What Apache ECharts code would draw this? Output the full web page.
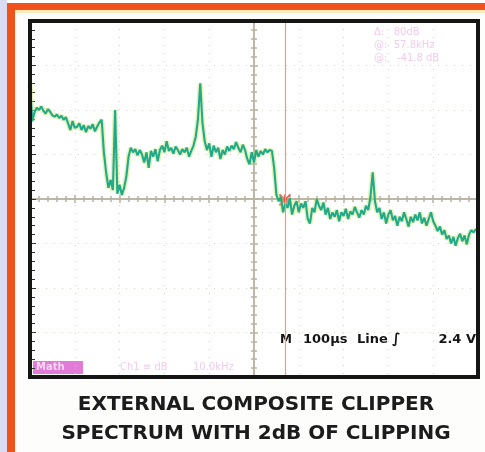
<!DOCTYPE html>
<html>
<head>
<meta charset="utf-8">
<script src="https://cdn.jsdelivr.net/npm/echarts@6/dist/echarts.min.js"></script>
<style>
  html, body { margin: 0; padding: 0; background: #fdfdfb; }
  #chart { width: 485px; height: 452px; }
</style>
</head>
<body>
<div id="chart"></div>
<script>
// Scope screen: 10 horizontal divisions (100µs each), 8 vertical divisions.
const X_MIN = -5;
const X_MAX = 5;
const X_STEP = 0.05; // one sample every 1/20 division
const Y_MIN = -4;
const Y_MAX = 4;

// Trace level in divisions left to right.
const TRACE = [
  2.6, 1.75, 1.95, 2.05, 2.0, 2.08, 1.98, 1.92, 2.02, 1.96,
  1.88, 1.85, 1.9, 1.82, 1.87, 1.78, 1.84, 1.7, 1.55, 1.75,
  1.6, 1.62, 1.7, 1.55, 1.66, 1.5, 1.64, 1.58, 1.68, 1.52,
  1.63, 1.72, 1.78, 1.04, 0.59, 0.25, 0.43, 0.2, 2.0, 0.12,
  0.32, 0.09, 0.25, 0.5, 0.95, 1.15, 1.05, 1.12, 0.98, 1.1,
  1.0, 0.82, 1.05, 0.7, 1.08, 0.95, 1.12, 0.85, 1.1, 1.2,
  1.05, 1.3, 1.08, 1.15, 1.02, 1.18, 1.1, 1.0, 1.12, 1.05,
  1.15, 0.95, 1.08, 1.2, 1.4, 1.8, 2.6, 1.7, 1.3, 1.1,
  1.25, 0.95, 1.2, 1.05, 1.15, 0.9, 1.1, 1.0, 1.18, 1.08,
  1.2, 1.12, 1.28, 1.15, 1.05, 1.22, 1.1, 0.9, 0.78, 1.05,
  0.82, 1.1, 0.95, 1.08, 1.0, 1.12, 1.05, 1.1, 1.08, 0.7,
  0.1, -0.05, 0.05, -0.3, -0.1, -0.2, 0.02, -0.35, -0.15, -0.05,
  -0.3, -0.1, -0.2, -0.05, -0.45, -0.55, -0.2, -0.3, 0.0, -0.15,
  -0.25, -0.08, -0.35, -0.2, -0.45, -0.3, -0.4, -0.25, -0.5, -0.3,
  -0.38, -0.22, -0.45, -0.28, -0.35, -0.18, -0.3, -0.42, -0.25, -0.35,
  -0.15, -0.25, 0.05, 0.6, -0.05, -0.3, -0.2, -0.45, -0.3, -0.55,
  -0.35, -0.25, -0.48, -0.38, -0.6, -0.4, -0.5, -0.3, -0.45, -0.62,
  -0.4, -0.52, -0.35, -0.48, -0.3, -0.55, -0.42, -0.6, -0.45, -0.3,
  -0.5, -0.6, -0.72, -0.62, -0.8, -0.7, -0.9, -0.82, -1.0, -0.85,
  -1.05, -0.88, -0.78, -0.95, -0.82, -1.02, -0.8, -0.7, -0.75, -0.68, -0.72,
];

// Trigger cursor position and marker
const CURSOR_X = 0.69;
const MARKER = [[0.69, -0.02]];

const READOUT = ["Δ:   80dB", "@:  57.8kHz", "@:   -41.8 dB"];
const STATUS = { timebase: "100µs", source: "Line", slope: "∫", level: "2.4 V" };
const CAPTION = ["EXTERNAL COMPOSITE CLIPPER", "SPECTRUM WITH 2dB OF CLIPPING"];

const GRID_DOT = "#d6d5cc";
const AXIS_GRAY = "#b9b3a2";
const TRACE_COLOR = "#22a98b";
const HALO = "rgba(190,228,90,0.45)";
const ORANGE = "#f0521c";
const INK = "#151515";
const PINK = "#f1cdec";

// plot box in pixels (bezel drawn on top so grid dots do not speckle it)
const BOX = { left: 30, right: 7, top: 21, bottom: 75 };

const traceData = TRACE.map((v, i) => [X_MIN + i * X_STEP, v]);

const centerX = (position) => ({
  type: "value",
  min: X_MIN,
  max: X_MAX,
  interval: 1,
  position,
  axisLine: { onZero: true, onZeroAxisIndex: 0, lineStyle: { color: AXIS_GRAY, width: 1.5 } },
  axisTick: { show: true, length: 4, lineStyle: { color: AXIS_GRAY, width: 1.5 } },
  minorTick: { show: true, splitNumber: 5, length: 3, lineStyle: { color: AXIS_GRAY, width: 1.5 } },
  axisLabel: { show: false },
  splitLine: { show: position === "bottom", lineStyle: { color: GRID_DOT, type: [1, 7], width: 1.2 } },
});

const centerY = (position) => ({
  type: "value",
  min: Y_MIN,
  max: Y_MAX,
  interval: 1,
  position,
  axisLine: { onZero: true, onZeroAxisIndex: 0, lineStyle: { color: AXIS_GRAY, width: 1.5 } },
  axisTick: { show: true, length: 4, lineStyle: { color: AXIS_GRAY, width: 1.5 } },
  minorTick: { show: true, splitNumber: 5, length: 3, lineStyle: { color: AXIS_GRAY, width: 1.5 } },
  axisLabel: { show: false },
  splitLine: { show: position === "left", lineStyle: { color: GRID_DOT, type: [1, 7], width: 1.2 } },
});

const chart = echarts.init(document.getElementById("chart"));
chart.setOption({
  animation: false,
  backgroundColor: "#fdfdfb",
  grid: { ...BOX, show: true, backgroundColor: "#ffffff", borderWidth: 0 },
  xAxis: [centerX("bottom"), centerX("top")],
  yAxis: [
    centerY("left"),
    centerY("right"),
    {
      // small ticks along the inside of the left bezel
      type: "value", min: Y_MIN, max: Y_MAX, interval: 1, position: "left", offset: -2,
      axisLine: { show: false, onZero: false },
      axisTick: { show: true, inside: true, length: 4, lineStyle: { color: "#333" } },
      minorTick: { show: true, splitNumber: 5, length: 3, lineStyle: { color: "#333" } },
      axisLabel: { show: false },
      splitLine: { show: false },
    },
  ],
  series: [
    {
      type: "line",
      data: traceData,
      showSymbol: false,
      silent: true,
      lineStyle: { color: HALO, width: 5 },
      markLine: {
        silent: true,
        symbol: "none",
        label: { show: false },
        lineStyle: { color: "#f39a70", width: 1.2, type: "solid" },
        data: [{ xAxis: CURSOR_X }],
      },
    },
    {
      type: "line",
      data: traceData,
      showSymbol: false,
      silent: true,
      lineStyle: { color: TRACE_COLOR, width: 2.1 },
    },
    {
      type: "scatter",
      data: MARKER,
      symbol: "path://M0,0L10,10M10,0L0,10M5,0L5,10M0,5L10,5",
      symbolSize: 11,
      itemStyle: { color: "none", borderColor: "#e8362a", borderWidth: 2 },
    },
  ],
  graphic: [
    // page decorations: orange print bars and lavender margin
    { type: "rect", shape: { x: 0, y: 0, width: 7, height: 452 }, style: { fill: "#dcdcf2" }, silent: true },
    { type: "rect", shape: { x: 7, y: 3, width: 478, height: 7 }, style: { fill: ORANGE }, silent: true },
    { type: "rect", shape: { x: 7, y: 3, width: 8, height: 449 }, style: { fill: ORANGE }, silent: true },
    { type: "rect", shape: { x: 15, y: 10, width: 470, height: 3 }, style: { fill: "#fbe9b8" }, silent: true },
    // scope bezel
    {
      type: "rect", z: 100, silent: true,
      shape: { x: BOX.left, y: BOX.top, width: 485 - BOX.left - BOX.right, height: 452 - BOX.top - BOX.bottom },
      style: { fill: "none", stroke: INK, lineWidth: 4 },
    },
    // faint on-screen readouts
    { type: "text", left: 374, top: 26, style: { text: READOUT.join("\n"), fill: PINK, font: "10px 'DejaVu Sans'", lineHeight: 13 }, silent: true },
    { type: "rect", shape: { x: 33, y: 361, width: 50, height: 13 }, style: { fill: "#e27ad8" }, silent: true },
    { type: "text", left: 36, top: 362, style: { text: "Math", fill: "#f6d6f2", font: "bold 10px 'DejaVu Sans'" }, silent: true },
    { type: "text", left: 120, top: 362, style: { text: "Ch1 ≡ dB", fill: PINK, font: "10px 'DejaVu Sans'" }, silent: true },
    { type: "text", left: 193, top: 362, style: { text: "10.0kHz", fill: PINK, font: "10px 'DejaVu Sans'" }, silent: true },
    // trigger / timebase status line
    { type: "text", left: 280, top: 334, style: { text: "M", fill: INK, font: "bold 12px 'DejaVu Sans'" }, silent: true },
    { type: "text", left: 303, top: 333, style: { text: STATUS.timebase, fill: INK, font: "bold 13px 'DejaVu Sans'" }, silent: true },
    { type: "text", left: 357, top: 333, style: { text: STATUS.source, fill: INK, font: "bold 13px 'DejaVu Sans'" }, silent: true },
    { type: "text", left: 392, top: 332, style: { text: STATUS.slope, fill: INK, font: "bold 14px 'DejaVu Sans'" }, silent: true },
    { type: "text", right: 9, top: 333, style: { text: STATUS.level, fill: INK, font: "bold 13px 'DejaVu Sans'" }, silent: true },
    // caption
    { type: "text", x: 256, y: 405, style: { text: CAPTION[0], fill: "#1c1c1c", font: "bold 20px 'DejaVu Sans'", align: "center", verticalAlign: "middle" }, silent: true },
    { type: "text", x: 256, y: 434, style: { text: CAPTION[1], fill: "#1c1c1c", font: "bold 20px 'DejaVu Sans'", align: "center", verticalAlign: "middle" }, silent: true },
  ],
});
</script>
</body>
</html>
